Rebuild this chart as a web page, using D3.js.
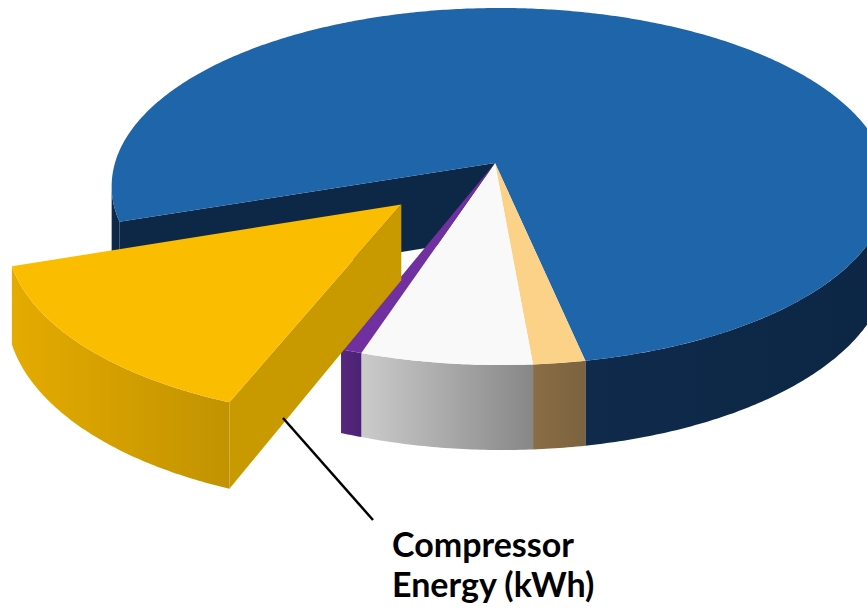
<!DOCTYPE html>
<html lang="en">
<head>
<meta charset="UTF-8">
<title>Compressor Energy (kWh)</title>
<script src="https://cdn.jsdelivr.net/npm/d3@7"></script>
<style>
	body { margin: 0; background: #fff; }
	svg { display: block; }
	.label { font-family: Lato, "Open Sans", sans-serif; font-weight: 700; font-size: 34px; fill: #000; }
</style>
</head>
<body>
<div id="chart"></div>
<script>
	// slice data, clockwise from the big blue slice
	const categories = ["Other Energy", "Pump Energy", "Fan Energy", "Control Energy", "Compressor Energy (kWh)"];
	const values = [77.0, 1.9, 6.3, 0.8, 14.0];
	const labelLines = ["Compressor", "Energy (kWh)"];

	const topColors = ["#1f65aa", "#fcd288", "#f9f9f9", "#7030a0", "#fbbd00"];
	const sideColors = [["#0f2a4b", "#0c2644"], ["#8a6d46", "#7b633f"], ["#cbcbcb", "#878787"], ["#57277f", "#4b2273"], ["#e4ab00", "#c29300"]];
	const faceColors = ["#0d2846", "#7b633f", "#9a9a9a", "#4b2273", "#c99a00"];
	const explodeIdx = 4, explodeDist = 0.33;

	const width = 867, height = 610;
	// pseudo perspective of the disc
	const cx = 495, cy = 163, sx = 385, sy = 175.4, persp = 0.1316, perspX = 0.013, depth = 73.8;

	function project(x, y, z) {
		const w = 1 - persp * y - perspX * x;
		return [cx + sx * x / w, cy + (sy * y + depth * z) / w];
	}

	const start = 251.04 * Math.PI / 180;
	const arcs = d3.pie().sort(null)
		.startAngle(start)
		.endAngle(start + 2 * Math.PI)(values);

	const rimA = Math.asin(persp), rimB = Math.PI - Math.asin(persp);

	function rimPts(o, a0, a1, z) {
		const n = Math.max(2, Math.ceil(Math.abs(a1 - a0) / 0.01));
		return d3.range(n + 1).map(i => {
			const a = a0 + (a1 - a0) * i / n;
			return project(o[0] + Math.cos(a), o[1] + Math.sin(a), z);
		});
	}

	const line = d3.line();

	const svg = d3.select('#chart').append('svg')
		.attr('width', width)
		.attr('height', height);
	const defs = svg.append('defs');

	const slices = arcs.map((d, i) => {
		const p0 = d.startAngle - Math.PI / 2, p1 = d.endAngle - Math.PI / 2;
		const mid = (p0 + p1) / 2;
		const e = i === explodeIdx ? explodeDist : 0;
		return { i, p0, p1, o: [e * Math.cos(mid), e * Math.sin(mid)], exploded: e > 0 };
	});

	function drawFaces(g, s) {
		const n = slices.length;
		const prev = slices[(s.i - 1 + n) % n], next = slices[(s.i + 1) % n];
		// radial faces
		[[s.p0, Math.cos(s.p0) < 0, prev], [s.p1, Math.cos(s.p1) > 0, next]].forEach(([a, vis, nb]) => {
			if (!vis || !(s.exploded || nb.exploded)) return;
			const pts = [project(s.o[0], s.o[1], 0),
				project(s.o[0] + Math.cos(a), s.o[1] + Math.sin(a), 0),
				project(s.o[0] + Math.cos(a), s.o[1] + Math.sin(a), 1),
				project(s.o[0], s.o[1], 1)];
			g.append('path').attr('d', line(pts) + 'Z').attr('fill', faceColors[s.i]);
		});
		// outer rim, visible part
		[-1, 0, 1].forEach(k => {
			const a0 = Math.max(s.p0, rimA + 2 * Math.PI * k), a1 = Math.min(s.p1, rimB + 2 * Math.PI * k);
			if (a1 <= a0) return;
			const top = rimPts(s.o, a0, a1, 0), bot = rimPts(s.o, a1, a0, 1);
			const xs = top.map(p => p[0]);
			const id = 'g' + s.i + '_' + (k + 1);
			const grad = defs.append('linearGradient').attr('id', id)
				.attr('gradientUnits', 'userSpaceOnUse')
				.attr('x1', d3.min(xs)).attr('x2', d3.max(xs)).attr('y1', 0).attr('y2', 0);
			grad.append('stop').attr('offset', 0).attr('stop-color', sideColors[s.i][0]);
			grad.append('stop').attr('offset', 1).attr('stop-color', sideColors[s.i][1]);
			g.append('path').attr('d', line(top.concat(bot)) + 'Z').attr('fill', `url(#${id})`);
		});
	}

	function drawTop(g, s) {
		const pts = [project(s.o[0], s.o[1], 0)].concat(rimPts(s.o, s.p0, s.p1, 0));
		g.append('path').attr('d', line(pts) + 'Z').attr('fill', topColors[s.i]);
	}

	const pie = svg.append('g');
	const main = slices.filter(s => !s.exploded), out = slices.filter(s => s.exploded);
	main.forEach(s => drawFaces(pie, s));
	main.forEach(s => drawTop(pie, s));
	out.forEach(s => { drawFaces(pie, s); drawTop(pie, s); });

	// leader and label
	svg.append('line')
		.attr('x1', 283).attr('y1', 418)
		.attr('x2', 373).attr('y2', 520)
		.attr('stroke', '#000').attr('stroke-width', 2.5);

	svg.append('text').attr('class', 'label')
		.selectAll('tspan').data(labelLines).join('tspan')
		.attr('x', 392)
		.attr('y', (d, i) => 557 + i * 40)
		.text(d => d);
</script>
</body>
</html>
